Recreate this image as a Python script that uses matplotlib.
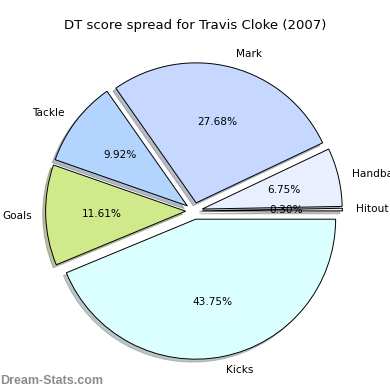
import matplotlib
matplotlib.use("Agg")
import matplotlib.pyplot as plt

# slices, counterclockwise from 0 degrees
labels = ["Hitout", "Handball", "Mark", "Tackle", "Goals", "Kicks"]
shares = [0.30, 6.75, 27.68, 9.92, 11.61, 43.75]
colors = ["#f0f0f0", "#e9efff", "#c6d8ff", "#b3d4ff", "#d0e98b", "#dbffff"]

fig = plt.figure(figsize=(3.9, 3.9), dpi=100)
ax = fig.add_axes([0, 0, 1, 1])

wedges, texts, autotexts = ax.pie(
    shares, labels=labels, colors=colors, explode=[0.06] * len(shares),
    autopct="%.2f%%", startangle=0,
    shadow={"ox": -0.015, "oy": -0.015, "shade": 0.45},
    wedgeprops={"edgecolor": "black", "linewidth": 0.7},
    textprops={"fontsize": 7.6})

ax.set_xlim(-1.386, 1.4)
ax.set_ylim(-1.279, 1.507)
ax.axis("off")

fig.text(0.5, 0.935, "DT score spread for Travis Cloke (2007)", ha="center", va="center", fontsize=9.5)
fig.text(0.0, 0.024, "Dream-Stats.com", ha="left", va="center", fontsize=9,
         family="Liberation Sans", fontweight="bold", color="#8c8c8c")

fig.savefig("out.png", dpi=100)
